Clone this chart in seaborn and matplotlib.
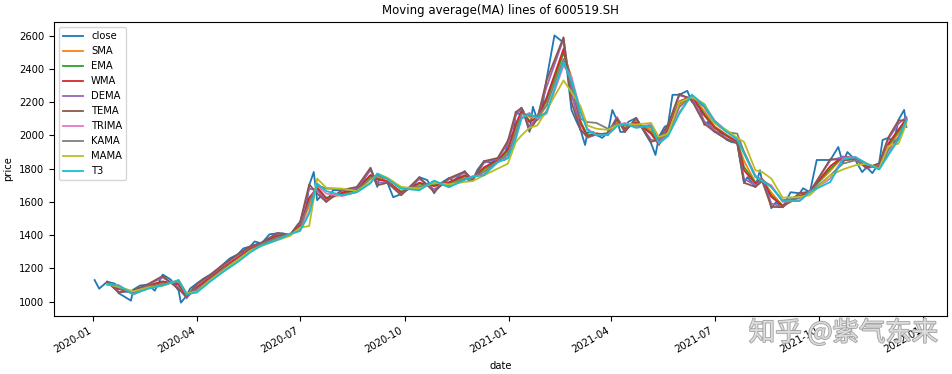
#!/usr/bin/env python3
# coding: utf-8

import matplotlib.pyplot as plt
import matplotlib.dates as mdates
import matplotlib.patheffects as pe
import seaborn as sns
import pandas as pd

plt.switch_backend('Agg')

# close prices (roughly weekly, plus the visible spikes)
close_dates = [
    '2020-01-02', '2020-01-06', '2020-01-13', '2020-01-20', '2020-01-23', '2020-02-03', '2020-02-05', '2020-02-11',
    '2020-02-18', '2020-02-24', '2020-03-02', '2020-03-09', '2020-03-16', '2020-03-18', '2020-03-23', '2020-03-26',
    '2020-04-01', '2020-04-07', '2020-04-13', '2020-04-20', '2020-04-24', '2020-04-30', '2020-05-07', '2020-05-12',
    '2020-05-18', '2020-05-22', '2020-05-28', '2020-06-04', '2020-06-11', '2020-06-16', '2020-06-22', '2020-06-29',
    '2020-07-01', '2020-07-06', '2020-07-09', '2020-07-13', '2020-07-16', '2020-07-20', '2020-07-24', '2020-07-30',
    '2020-08-07', '2020-08-14', '2020-08-20', '2020-08-26', '2020-09-01', '2020-09-03', '2020-09-07', '2020-09-09',
    '2020-09-16', '2020-09-21', '2020-09-28', '2020-10-09', '2020-10-14', '2020-10-21', '2020-10-27', '2020-11-02',
    '2020-11-09', '2020-11-13', '2020-11-23', '2020-11-26', '2020-11-30', '2020-12-04', '2020-12-10', '2020-12-16',
    '2020-12-22', '2020-12-28', '2020-12-31', '2021-01-05', '2021-01-07', '2021-01-11', '2021-01-12', '2021-01-14',
    '2021-01-19', '2021-01-22', '2021-01-26', '2021-01-29', '2021-02-03', '2021-02-10', '2021-02-18', '2021-02-19',
    '2021-02-25', '2021-03-02', '2021-03-05', '2021-03-09', '2021-03-11', '2021-03-16', '2021-03-19', '2021-03-24',
    '2021-03-29', '2021-04-02', '2021-04-06', '2021-04-09', '2021-04-13', '2021-04-16', '2021-04-23', '2021-04-28',
    '2021-05-06', '2021-05-10', '2021-05-13', '2021-05-18', '2021-05-21', '2021-05-25', '2021-05-31', '2021-06-07',
    '2021-06-11', '2021-06-18', '2021-06-22', '2021-06-25', '2021-07-01', '2021-07-06', '2021-07-12', '2021-07-16',
    '2021-07-21', '2021-07-23', '2021-07-27', '2021-07-30', '2021-08-06', '2021-08-10', '2021-08-12', '2021-08-16',
    '2021-08-20', '2021-08-24', '2021-08-30', '2021-09-06', '2021-09-14', '2021-09-17', '2021-09-23', '2021-09-29',
    '2021-10-11', '2021-10-18', '2021-10-22', '2021-10-26', '2021-11-02', '2021-11-08', '2021-11-12', '2021-11-17',
    '2021-11-23', '2021-11-26', '2021-12-01', '2021-12-06', '2021-12-10', '2021-12-15', '2021-12-17',
]
close = [
    1130, 1078, 1120, 1108, 1052, 1006, 1072, 1097, 1103, 1066, 1163, 1133, 1066, 994, 1036, 1078,
    1109, 1139, 1163, 1199, 1223, 1260, 1284, 1320, 1332, 1362, 1350, 1405, 1411, 1411, 1399, 1465,
    1477, 1550, 1700, 1780, 1610, 1640, 1600, 1670, 1670, 1647, 1690, 1731, 1803, 1761, 1690, 1755,
    1713, 1628, 1647, 1700, 1749, 1731, 1652, 1713, 1743, 1725, 1785, 1731, 1731, 1791, 1846, 1834,
    1864, 1852, 1972, 2015, 2142, 2123, 2166, 2142, 2021, 2172, 2093, 2111, 2335, 2601, 2558, 2516,
    2153, 2075, 2033, 1942, 2015, 2021, 2003, 1985, 2015, 2153, 2093, 2021, 2021, 2081, 2105, 2045,
    1954, 1882, 1991, 2051, 2063, 2244, 2244, 2268, 2202, 2172, 2063, 2081, 2021, 2015, 1972, 1960,
    1954, 1870, 1713, 1749, 1689, 1791, 1719, 1689, 1562, 1598, 1568, 1658, 1652, 1682, 1658, 1852,
    1852, 1930, 1834, 1900, 1852, 1779, 1809, 1773, 1834, 1972, 1985, 1960, 2093, 2153, 2051,
]

# moving average lines, read at every second close date
ma_dates = close_dates[2::2]
sma = [1109, 1093, 1043, 1091, 1111, 1121, 1032, 1074, 1137, 1195, 1256, 1312, 1348, 1389, 1407, 1447, 1576, 1697,
       1617, 1647, 1669, 1741, 1751, 1719, 1663, 1699, 1711, 1703, 1751, 1749, 1789, 1848, 1896, 2043, 2144, 2110,
       2095, 2180, 2498, 2350, 2087, 1997, 2013, 2001, 2087, 2045, 2069, 2035, 1942, 2035, 2184, 2238, 2146, 2055,
       2003, 1962, 1846, 1717, 1733, 1657, 1576, 1626, 1664, 1787, 1872, 1862, 1813, 1805, 1930, 2013, 2099]
ema = [1110, 1080, 1050, 1095, 1120, 1105, 1030, 1085, 1145, 1203, 1263, 1318, 1350, 1396, 1405, 1455, 1610, 1680,
       1625, 1652, 1672, 1755, 1740, 1722, 1660, 1710, 1700, 1712, 1755, 1745, 1800, 1850, 1910, 2060, 2140, 2090,
       2100, 2210, 2500, 2330, 2080, 2000, 2010, 2003, 2095, 2040, 2075, 2020, 1950, 2040, 2195, 2235, 2130, 2050,
       1998, 1962, 1810, 1715, 1735, 1640, 1578, 1632, 1664, 1800, 1870, 1862, 1812, 1808, 1940, 2025, 2095]
wma = [1112, 1078, 1050, 1096, 1122, 1102, 1025, 1088, 1147, 1205, 1266, 1320, 1352, 1398, 1404, 1460, 1625, 1685,
       1620, 1655, 1675, 1762, 1735, 1724, 1655, 1715, 1695, 1718, 1760, 1742, 1808, 1852, 1918, 2070, 2145, 2080,
       2105, 2225, 2520, 2300, 2070, 1995, 2010, 2005, 2105, 2035, 2080, 2010, 1945, 2045, 2205, 2235, 2120, 2045,
       1995, 1960, 1790, 1710, 1738, 1630, 1576, 1636, 1665, 1815, 1872, 1862, 1808, 1812, 1950, 2035, 2100]
dema = [1118, 1060, 1060, 1102, 1145, 1085, 1020, 1102, 1158, 1218, 1280, 1330, 1356, 1410, 1401, 1475, 1680, 1670,
        1605, 1668, 1685, 1790, 1715, 1718, 1645, 1738, 1675, 1735, 1775, 1735, 1835, 1860, 1950, 2120, 2160, 2050,
        2110, 2290, 2580, 2250, 2040, 1985, 2006, 2010, 2110, 2025, 2098, 1975, 1960, 2058, 2240, 2225, 2085, 2030,
        1980, 1955, 1740, 1698, 1735, 1590, 1570, 1650, 1662, 1850, 1870, 1860, 1800, 1825, 1978, 2070, 2110]
tema = [1121, 1055, 1068, 1105, 1155, 1075, 1030, 1108, 1162, 1222, 1284, 1333, 1354, 1413, 1399, 1480, 1705, 1650,
        1600, 1672, 1690, 1805, 1700, 1715, 1640, 1748, 1660, 1742, 1783, 1732, 1845, 1864, 1968, 2140, 2166, 2030,
        2100, 2330, 2590, 2200, 2030, 1995, 2004, 2014, 2100, 2020, 2105, 1960, 1980, 2063, 2250, 2210, 2070, 2022,
        1974, 1954, 1715, 1690, 1725, 1570, 1568, 1654, 1659, 1858, 1850, 1855, 1805, 1832, 1987, 2090, 2090]
trima = [1105, 1100, 1045, 1080, 1100, 1130, 1050, 1060, 1125, 1182, 1243, 1300, 1340, 1375, 1408, 1430, 1540, 1700,
         1650, 1635, 1660, 1715, 1765, 1735, 1685, 1675, 1725, 1690, 1735, 1755, 1765, 1840, 1870, 1995, 2110, 2135,
         2100, 2130, 2420, 2350, 2150, 2040, 2000, 2005, 2060, 2075, 2050, 2065, 1965, 2000, 2140, 2240, 2185, 2090,
         2025, 1975, 1900, 1760, 1725, 1700, 1600, 1610, 1660, 1740, 1860, 1870, 1830, 1800, 1890, 1985, 2090]
kama = [1108, 1085, 1050, 1090, 1105, 1120, 1040, 1070, 1135, 1195, 1255, 1310, 1345, 1385, 1405, 1440, 1600, 1700,
        1680, 1675, 1668, 1740, 1760, 1740, 1680, 1690, 1720, 1700, 1740, 1745, 1780, 1845, 1885, 2020, 2130, 2120,
        2110, 2180, 2460, 2300, 2100, 2080, 2075, 2040, 2070, 2060, 2060, 2050, 1970, 2010, 2170, 2235, 2170, 2075,
        2020, 2010, 1900, 1750, 1735, 1690, 1610, 1625, 1655, 1760, 1830, 1850, 1825, 1805, 1910, 1990, 2085]
mama = [1105, 1090, 1062, 1085, 1095, 1130, 1050, 1060, 1130, 1185, 1250, 1305, 1335, 1370, 1395, 1445, 1455, 1740,
        1685, 1680, 1665, 1720, 1770, 1745, 1690, 1680, 1715, 1705, 1720, 1725, 1760, 1800, 1830, 1960, 2000, 2045,
        2060, 2150, 2330, 2260, 2175, 2060, 2040, 2033, 2060, 2070, 2065, 2075, 1990, 2010, 2200, 2230, 2190, 2075,
        2030, 1985, 1960, 1790, 1780, 1740, 1625, 1630, 1640, 1760, 1795, 1820, 1830, 1800, 1935, 1950, 2070]
t3 = [1102, 1098, 1045, 1078, 1098, 1128, 1045, 1055, 1122, 1178, 1238, 1296, 1338, 1372, 1406, 1425, 1530, 1710,
      1665, 1640, 1658, 1712, 1770, 1738, 1680, 1670, 1728, 1688, 1732, 1752, 1760, 1838, 1862, 1980, 2100, 2130,
      2105, 2140, 2440, 2330, 2140, 2030, 2000, 2003, 2055, 2070, 2045, 2060, 1950, 1995, 2130, 2245, 2180, 2085,
      2020, 1975, 1890, 1750, 1725, 1690, 1605, 1605, 1660, 1720, 1855, 1870, 1830, 1795, 1880, 1975, 2095]

series = {
    'close': (close_dates, close),
    'SMA': (ma_dates, sma),
    'EMA': (ma_dates, ema),
    'WMA': (ma_dates, wma),
    'DEMA': (ma_dates, dema),
    'TEMA': (ma_dates, tema),
    'TRIMA': (ma_dates, trima),
    'KAMA': (ma_dates, kama),
    'MAMA': (ma_dates, mama),
    'T3': (ma_dates, t3),
}

frames = []
for name, (d, v) in series.items():
    frames.append(pd.DataFrame({'date': pd.to_datetime(d), 'price': v, 'line': name}))
df = pd.concat(frames, ignore_index=True)

palette = sns.color_palette('tab10', len(series))

fig = plt.figure(figsize=(9.53, 3.74), dpi=100)
ax = fig.add_axes([0.0567, 0.155, 0.937, 0.786])

for (name, _), color in zip(series.items(), palette):
    sns.lineplot(data=df[df['line'] == name], x='date', y='price', ax=ax,
                 color=color, linewidth=1.3, label=name)

ax.legend(loc='upper left', fontsize=7.2)
ax.set_title('Moving average(MA) lines of 600519.SH', fontsize=8.5)
ax.set_xlabel('date', fontsize=7.2)
ax.set_ylabel('price', fontsize=7.2)

ax.xaxis.set_major_locator(mdates.MonthLocator(bymonth=[1, 4, 7, 10]))
ax.xaxis.set_major_formatter(mdates.DateFormatter('%Y-%m'))
ax.tick_params(labelsize=7.2)
for lbl in ax.get_xticklabels():
    lbl.set_rotation(30)
    lbl.set_ha('right')

# watermark in the lower right corner of the source picture
fig.text(0.885, 0.11, '知乎 @紫气东来', fontsize=19, color='#dcdcdc',
         family=['Noto Sans CJK SC', 'DejaVu Sans'], ha='center', va='center',
         path_effects=[pe.withStroke(linewidth=1.2, foreground='#a0a0a0')])

plt.savefig('out.png', dpi=100)
